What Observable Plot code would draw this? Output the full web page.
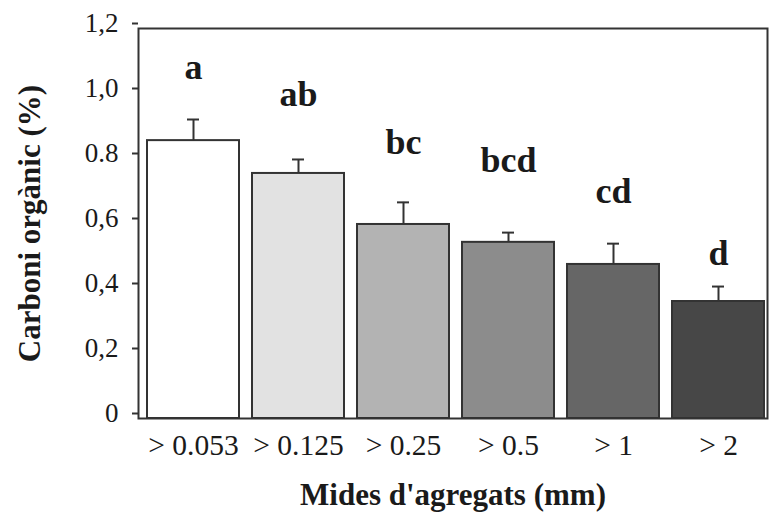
<!DOCTYPE html>
<html>
<head>
<meta charset="utf-8">
<script src="https://cdn.jsdelivr.net/npm/d3@7"></script>
<script src="https://cdn.jsdelivr.net/npm/@observablehq/plot@0.6"></script>
<style>
  html, body { margin: 0; padding: 0; background: #fff; }
  #chart svg { display: block; }
  #chart svg, #chart svg text { font-family: "Liberation Serif", "DejaVu Serif", serif !important; }
</style>
</head>
<body>
<div id="chart"></div>
<script>
const categories = ["> 0.053", "> 0.125", "> 0.25", "> 0.5", "> 1", "> 2"];
const values = [0.855, 0.754, 0.597, 0.542, 0.474, 0.360];
const upper = [0.920, 0.797, 0.665, 0.572, 0.538, 0.406];
const letters = ["a", "ab", "bc", "bcd", "cd", "d"];
const letterY = [1.046, 0.963, 0.815, 0.757, 0.662, 0.471];
const fills = ["#ffffff", "#e2e2e2", "#b3b3b3", "#8c8c8c", "#666666", "#474747"];
const yTicks = [0, 0.2, 0.4, 0.6, 0.8, 1.0, 1.2];
const yTickLabels = ["0", "0,2", "0,4", "0,6", "0.8", "1,0", "1,2"];
const xTitle = "Mides d'agregats (mm)";
const yTitle = "Carboni orgànic (%)";

const data = categories.map((c, i) => ({
  size: c, value: values[i], upper: upper[i], letter: letters[i], ly: letterY[i], fill: fills[i]
}));

const serif = "Liberation Serif, DejaVu Serif, serif";
const ink = "#1a1a1a";

const chart = Plot.plot({
  width: 769,
  height: 522,
  marginTop: 28,
  marginBottom: 104,
  marginLeft: 138,
  marginRight: 2,
  style: { fontFamily: serif, color: ink, background: "#fff" },
  x: { domain: categories, range: [141, 770], paddingInner: 0.124, paddingOuter: 0.057 },
  y: { domain: [0, 1.2] },
  marks: [
    Plot.barY(data, { x: "size", y: "value", fill: "fill", stroke: "#333", strokeWidth: 2 }),
    Plot.ruleX(data, { x: "size", y1: "value", y2: "upper", stroke: "#333", strokeWidth: 2 }),
    Plot.tickY(data, { x: "size", y: "upper", stroke: "#333", strokeWidth: 2, inset: 40 }),
    Plot.text(data, { x: "size", y: "ly", text: "letter", fontSize: 36, fontWeight: "bold", lineAnchor: "bottom", fill: ink, fontFamily: serif }),
    Plot.frame({ stroke: "#333", strokeWidth: 2 }),
    Plot.axisY({
      ticks: yTicks,
      tickFormat: (d) => yTickLabels[yTicks.indexOf(d)],
      tickSize: 6,
      tickPadding: 14,
      fontSize: 27,
      fontFamily: serif,
      dy: -5,
      label: null,
      stroke: "#333",
      strokeWidth: 2
    }),
    Plot.axisX({ tickSize: 0, tickPadding: 16, fontSize: 29.5, fontFamily: serif, label: null }),
    Plot.text([xTitle], { frameAnchor: "bottom", text: (d) => d, dy: 86, fontSize: 31, fontWeight: "bold", fill: ink, fontFamily: serif }),
    Plot.text([yTitle], { frameAnchor: "left", textAnchor: "middle", text: (d) => d, dx: -108, rotate: -90, fontSize: 31, fontWeight: "bold", fill: ink, fontFamily: serif })
  ]
});

document.getElementById("chart").appendChild(chart);
</script>
</body>
</html>
